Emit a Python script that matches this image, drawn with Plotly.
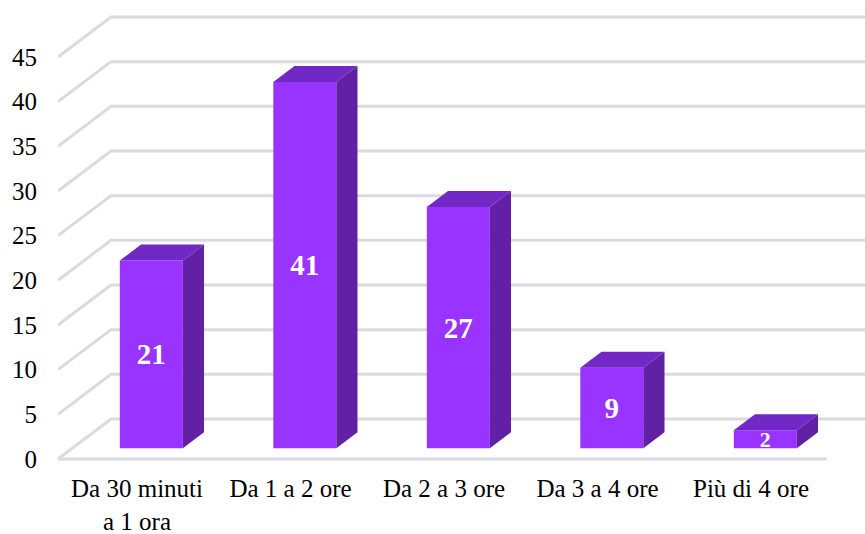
import plotly.graph_objects as go

# Survey answers: time spent per day and number of respondents
categories = ["Da 30 minuti<br>a 1 ora", "Da 1 a 2 ore", "Da 2 a 3 ore", "Da 3 a 4 ore", "Più di 4 ore"]
values = [21, 41, 27, 9, 2]
y_ticks = [0, 5, 10, 15, 20, 25, 30, 35, 40, 45]
label_sizes = [29, 29, 29, 29, 22]

FRONT = "#9933FF"
TOP = "#7228C4"
SIDE = "#6220A4"
GRID = "#DADAE1"
FONT = "Liberation Serif"

W, H = 865, 534
M_L, M_R, M_T, M_B = 58, 0, 0, 72
PX_PER_CAT = 153.5
PX_PER_UNIT = 402 / 45

# axis ranges derived from the pixel layout of the plot area
x0 = -(137 - M_L) / PX_PER_CAT
x1 = x0 + (W - M_L - M_R) / PX_PER_CAT
y_bottom_px = H - M_B
y0 = -(y_bottom_px - 459) / PX_PER_UNIT
y1 = y0 + (y_bottom_px - M_T) / PX_PER_UNIT

# 3D depth of the chart box (data units)
DX = 53 / PX_PER_CAT
DY = 40 / PX_PER_UNIT
F_FRONT, F_BACK = 0.27, 0.67      # bar front/back as fraction of depth
BAR_W = 63 / PX_PER_CAT

fig = go.Figure()

# wall gridlines and floor, drawn beneath the bars
shapes = []
for v in y_ticks:
    path = f"M {x0},{v} L {x0 + DX},{v + DY} L {x1 + 0.2},{v + DY}"
    shapes.append(dict(type="path", xref="x", yref="y", path=path,
                       line=dict(color=GRID, width=3), layer="below"))
floor_end = x0 + (827 - M_L) / PX_PER_CAT
shapes.append(dict(type="line", xref="x", yref="y", x0=x0, y0=0, x1=floor_end, y1=0,
                   line=dict(color=GRID, width=3), layer="below"))

xs = [i + F_FRONT * DX for i in range(len(values))]
base = F_FRONT * DY
ddx = (F_BACK - F_FRONT) * DX
ddy = (F_BACK - F_FRONT) * DY

# front faces of the bars, with their value labels
fig.add_trace(go.Bar(
    x=xs, y=values, base=[base] * len(values), width=BAR_W,
    marker=dict(color=FRONT, line=dict(width=0)),
    text=[str(v) for v in values], textposition="inside",
    insidetextanchor="middle", textangle=0, constraintext="none",
    textfont=dict(family=FONT, color="white", size=label_sizes, weight="bold"),
    hoverinfo="skip", showlegend=False,
))

# right side and top faces
for xc, v in zip(xs, values):
    xl, xr = xc - BAR_W / 2, xc + BAR_W / 2
    top = base + v
    fig.add_trace(go.Scatter(
        x=[xr, xr, xr + ddx, xr + ddx, xr], y=[base, top, top + ddy, base + ddy, base],
        fill="toself", fillcolor=SIDE, mode="lines", line=dict(width=0, color=SIDE),
        hoverinfo="skip", showlegend=False))
    fig.add_trace(go.Scatter(
        x=[xl, xr, xr + ddx, xl + ddx, xl], y=[top, top, top + ddy, top + ddy, top],
        fill="toself", fillcolor=TOP, mode="lines", line=dict(width=0, color=TOP),
        hoverinfo="skip", showlegend=False))

fig.update_layout(
    width=W, height=H,
    margin=dict(l=M_L, r=M_R, t=M_T, b=M_B, pad=0),
    paper_bgcolor="white", plot_bgcolor="white",
    shapes=shapes,
    font=dict(family=FONT, size=25, color="black"),
    xaxis=dict(range=[x0, x1], showgrid=False, zeroline=False, showline=False,
               tickmode="array", tickvals=list(range(len(categories))), ticktext=categories,
               ticks="", ticklabelstandoff=9, tickfont=dict(size=25, family=FONT)),
    yaxis=dict(range=[y0, y1], showgrid=False, zeroline=False, showline=False,
               tickmode="array", tickvals=y_ticks, ticktext=[str(t) for t in y_ticks],
               ticks="", ticklabelstandoff=20, tickfont=dict(size=25, family=FONT)),
)

fig.write_html("out.html")
